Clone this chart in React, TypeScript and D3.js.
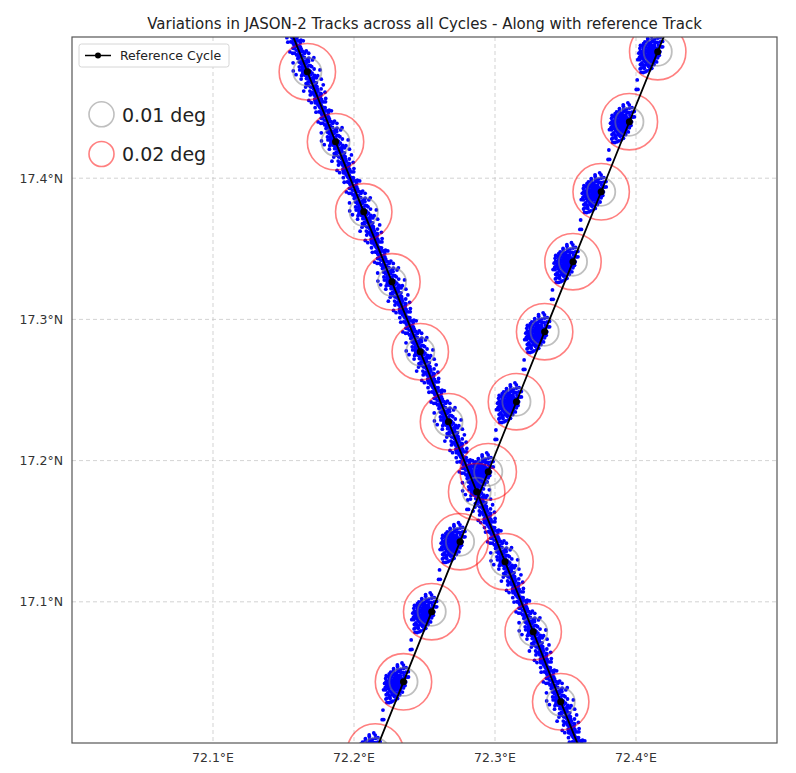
import React from "react";
import * as d3 from "d3";

// Reference cycle track points (lon, lat)
const ascLon = [72.2151, 72.2351, 72.2551, 72.2752, 72.2952, 72.3152, 72.3352, 72.3553, 72.3753, 72.3953, 72.4154, 72.4354];
const ascLat = [16.9937, 17.0433, 17.093, 17.1426, 17.1921, 17.2417, 17.2913, 17.3409, 17.3904, 17.44, 17.4896, 17.5392];
const descLon = [72.1469, 72.1669, 72.1869, 72.2069, 72.2269, 72.247, 72.267, 72.287, 72.3071, 72.3271, 72.3466, 72.3666];
const descLat = [17.525, 17.4754, 17.4258, 17.3762, 17.3266, 17.2771, 17.2275, 17.178, 17.1284, 17.0788, 17.0292, 16.9796];

// Per-cycle deviations, descending track: [along (% of point spacing), cross (1e-4 deg)]
const descCycles = [
  [-49, 10], [-47, -22], [-45, 30], [-43, -5], [-41, 18], [-39, -30], [-37, 6], [-35, 24], [-33, -14], [-31, 2],
  [-29, 33], [-27, -25], [-25, 12], [-23, -8], [-21, 27], [-19, -18], [-17, 4], [-15, -34], [-13, 20], [-11, -2],
  [-9, 14], [-7, -27], [-5, 31], [-3, -11], [-1, 8], [1, -20], [3, 25], [5, -4], [7, 16], [9, -32],
  [11, 3], [13, 22], [15, -16], [17, 29], [19, -7], [21, 11], [23, -24], [25, 34], [27, -1], [29, -19],
  [31, 15], [33, -29], [35, 7], [37, -12], [39, 26], [41, -3], [43, 19], [45, -26], [47, 0], [49, 13],
  [-48, -12], [-46, 4], [-44, 22], [-42, -28], [-40, 9], [-38, -3], [-36, 32], [-34, -20], [-32, 14], [-30, -9],
  [-28, 1], [-26, 26], [-24, -31], [-22, 17], [-20, -6], [-18, 10], [-16, 28], [-14, -15], [-12, -35], [-10, 6],
  [-8, 21], [-6, -10], [-4, -1], [-2, 30], [0, -17], [2, 12], [4, -28], [6, 3], [8, 24], [10, -13],
  [12, -22], [14, 8], [16, 1], [18, -30], [20, 20], [22, -11], [24, 5], [26, -20], [28, 28], [30, -6],
  [32, 16], [34, -33], [36, 2], [38, -16], [40, 12], [42, 30], [44, -8], [46, 18], [48, -2],
  [-47, 2], [-43, -15], [-39, 14], [-35, -8], [-31, -20], [-27, 5], [-23, 18], [-19, -2], [-15, 9], [-11, -14],
  [-7, 10], [-3, -5], [1, 20], [5, -14], [9, 6], [13, -9], [17, -2], [21, -17], [25, -12], [29, 6],
  [33, -3], [37, 22], [41, -20], [45, 5], [-44, -2], [-36, -14], [-28, -16], [-20, 8], [-12, 12], [-4, 14],
  [4, 10], [12, -2], [20, -2], [28, 13], [36, -24], [44, 8],
  [-46, 50], [-40, -55], [-33, 62], [-26, -48], [-18, 70], [-12, -65], [-6, 45], [0, -52], [6, 60], [12, -44],
  [18, 52], [24, -70], [30, 42], [36, 66], [42, -50], [48, 44], [-42, -42], [-30, 48], [-14, -80], [-2, 82],
  [10, -58], [22, 75], [34, -62], [46, -40], [-22, -58], [-8, 90], [4, -88], [16, -72], [28, -45], [40, 55],
  [-10, 40], [-4, -42], [2, 48], [8, -38], [-16, -46], [14, 40], [0, 36], [-6, -36],
];

// Per-cycle deviations, ascending track: [along, cross] in 1e-4 deg (cross > 0 = left of track)
const ascCycles = [
  [-25, 44], [15, 65], [-70, 30], [-45, 85], [-5, 15], [-100, 52], [35, 40], [-60, 0], [-20, 100], [20, 75],
  [-85, 80], [-40, 14], [0, 30], [-55, 60], [-15, 66], [-120, 22], [55, 60], [-10, -4], [-50, 110], [25, 6],
  [-80, 0], [-25, 74], [10, 22], [-90, 36], [-40, 44], [0, 90], [-115, 74], [45, 14], [-60, 96], [-20, 22],
  [10, 52], [-70, 66], [-40, -16], [-5, 112], [-145, 44], [60, 28], [-25, 6], [-50, 60], [-15, 52], [-90, 14],
  [25, 82], [-70, 28], [-25, 126], [-100, 96], [40, -10], [-45, 6], [-5, 60], [-125, 60], [10, 96], [-85, 44],
  [-30, 36], [20, 28], [-60, 74], [-20, 82], [-165, 28], [75, 52], [-35, 52], [-5, -4], [-95, 66], [-55, 22],
  [-28, 56], [-8, 41], [-42, 33], [-22, 17], [0, 71], [-55, 47], [30, 44], [-35, 77], [-13, 0], [-70, 86],
  [90, 35], [-135, 50], [65, 70], [-150, 65], [110, 45], [-175, 40],
  [-30, 40], [-18, 48], [-38, 52], [-12, 35], [-48, 38], [5, 50], [-60, 50], [-25, 25], [-25, 62], [15, 40],
  [-75, 100], [-110, 10], [-130, 80], [50, 95], [70, 10], [85, 80], [-160, 70], [-95, -10], [-20, -20], [30, 110],
  [-60, 120], [100, 20], [-140, 5], [-5, 130], [45, -20], [-105, 110], [60, 100], [-180, 55], [120, 60], [-70, -20],
  [-35, 100], [5, -15], [-125, -5], [80, -5], [-45, 115], [35, 90], [-155, 20], [95, 85], [-85, 105], [15, 115],
  [-65, 10], [-10, 10], [-100, 25], [55, 40], [-50, 85], [25, 60], [-115, 40], [-75, 50], [40, 70], [-30, -10],
  [-300, 30], [230, 40], [-240, 60],
];

const xTicks = [72.1, 72.2, 72.3, 72.4];
const yTicks = [17.1, 17.2, 17.3, 17.4];
const title = "Variations in JASON-2 Tracks across all Cycles - Along with reference Track";

const L = 72, R = 777, T = 37, B = 743;
const FONT = "DejaVu Sans, Verdana, sans-serif";

export default function App() {
  const x = d3.scaleLinear().domain([72.0, 72.5]).range([L, R]);
  const y = d3.scaleLinear().domain([17.0, 17.5]).range([B, T]);
  const r1 = x(72.01) - x(72.0);
  const r2 = x(72.02) - x(72.0);

  const asc = ascLon.map((lon, i) => [lon, ascLat[i]]);
  const desc = descLon.map((lon, i) => [lon, descLat[i]]);

  const descDots: number[][] = [];
  desc.forEach((p, i) => {
    const q = desc[Math.min(i + 1, desc.length - 1)];
    const pr = desc[Math.max(i - 1, 0)];
    const dLon = i < desc.length - 1 ? q[0] - p[0] : p[0] - pr[0];
    const dLat = i < desc.length - 1 ? q[1] - p[1] : p[1] - pr[1];
    const len = Math.hypot(dLon, dLat);
    const px = dLat / len, py = -dLon / len;
    descCycles.forEach(([t, c]) => {
      const tt = t / 100;
      descDots.push([p[0] + tt * dLon + (c / 1e4) * px, p[1] + tt * dLat + (c / 1e4) * py]);
    });
  });

  const ascDots: number[][] = [];
  const aDLon = asc[1][0] - asc[0][0];
  const aDLat = asc[1][1] - asc[0][1];
  const aLen = Math.hypot(aDLon, aDLat);
  const ux = aDLon / aLen, uy = aDLat / aLen;
  const lx = -uy, ly = ux;
  asc.forEach((p) => {
    ascCycles.forEach(([a, c]) => {
      ascDots.push([p[0] + (a / 1e4) * ux + (c / 1e4) * lx, p[1] + (a / 1e4) * uy + (c / 1e4) * ly]);
    });
  });

  const line = d3.line<number[]>().x((d) => x(d[0])).y((d) => y(d[1]));
  const allRef = [...asc, ...desc];

  return (
    <svg width={796} height={773} style={{ position: "absolute", left: 0, top: 0 }} fontFamily={FONT}>
      <defs>
        <clipPath id="plot">
          <rect x={L} y={T} width={R - L} height={B - T} />
        </clipPath>
      </defs>
      <rect x={0} y={0} width={796} height={773} fill="#fff" />
      <text x={(L + R) / 2} y={29} textAnchor="middle" fontSize={15} fill="#222">{title}</text>
      {xTicks.map((t) => (
        <line key={"gx" + t} x1={x(t)} x2={x(t)} y1={T} y2={B} stroke="#c8c8c8" strokeWidth={0.8} strokeDasharray="4,3" />
      ))}
      {yTicks.map((t) => (
        <line key={"gy" + t} y1={y(t)} y2={y(t)} x1={L} x2={R} stroke="#c8c8c8" strokeWidth={0.8} strokeDasharray="4,3" />
      ))}
      <g clipPath="url(#plot)">
        {descDots.map((d, i) => (
          <circle key={"dd" + i} cx={x(d[0])} cy={y(d[1])} r={1.9} fill="#0000ff" />
        ))}
        {ascDots.map((d, i) => (
          <circle key={"ad" + i} cx={x(d[0])} cy={y(d[1])} r={1.9} fill="#0000ff" />
        ))}
        {allRef.map((p, i) => (
          <circle key={"c1" + i} cx={x(p[0])} cy={y(p[1])} r={r1} fill="none" stroke="#808080" strokeOpacity={0.5} strokeWidth={1.8} />
        ))}
        {allRef.map((p, i) => (
          <circle key={"c2" + i} cx={x(p[0])} cy={y(p[1])} r={r2} fill="none" stroke="#ff0000" strokeOpacity={0.5} strokeWidth={1.6} />
        ))}
        <path d={line(asc) || ""} fill="none" stroke="#000" strokeWidth={1.8} />
        <path d={line(desc) || ""} fill="none" stroke="#000" strokeWidth={1.8} />
        {allRef.map((p, i) => (
          <circle key={"m" + i} cx={x(p[0])} cy={y(p[1])} r={3.5} fill="#000" />
        ))}
      </g>
      <rect x={L} y={T} width={R - L} height={B - T} fill="none" stroke="#555" strokeWidth={1.2} />
      {xTicks.map((t) => (
        <text key={"xt" + t} x={x(t)} y={762} textAnchor="middle" fontSize={12.5} fill="#333">{t.toFixed(1)}°E</text>
      ))}
      {yTicks.map((t) => (
        <text key={"yt" + t} x={63} y={y(t) + 4.5} textAnchor="end" fontSize={12.5} fill="#333">{t.toFixed(1)}°N</text>
      ))}
      <rect x={79} y={44} width={150} height={23} rx={2.5} fill="#fff" stroke="#d6d6d6" strokeWidth={1} />
      <line x1={85} x2={111} y1={55.5} y2={55.5} stroke="#000" strokeWidth={1.5} />
      <circle cx={98} cy={55.5} r={3} fill="#000" />
      <text x={120} y={60} fontSize={12.5} fill="#222">Reference Cycle</text>
      <circle cx={101.5} cy={114.3} r={12.5} fill="none" stroke="#808080" strokeOpacity={0.5} strokeWidth={1.6} />
      <text x={122} y={121.5} fontSize={19} fill="#222">0.01 deg</text>
      <circle cx={101.5} cy={154} r={12.5} fill="none" stroke="#ff0000" strokeOpacity={0.5} strokeWidth={1.6} />
      <text x={122} y={161} fontSize={19} fill="#222">0.02 deg</text>
    </svg>
  );
}
